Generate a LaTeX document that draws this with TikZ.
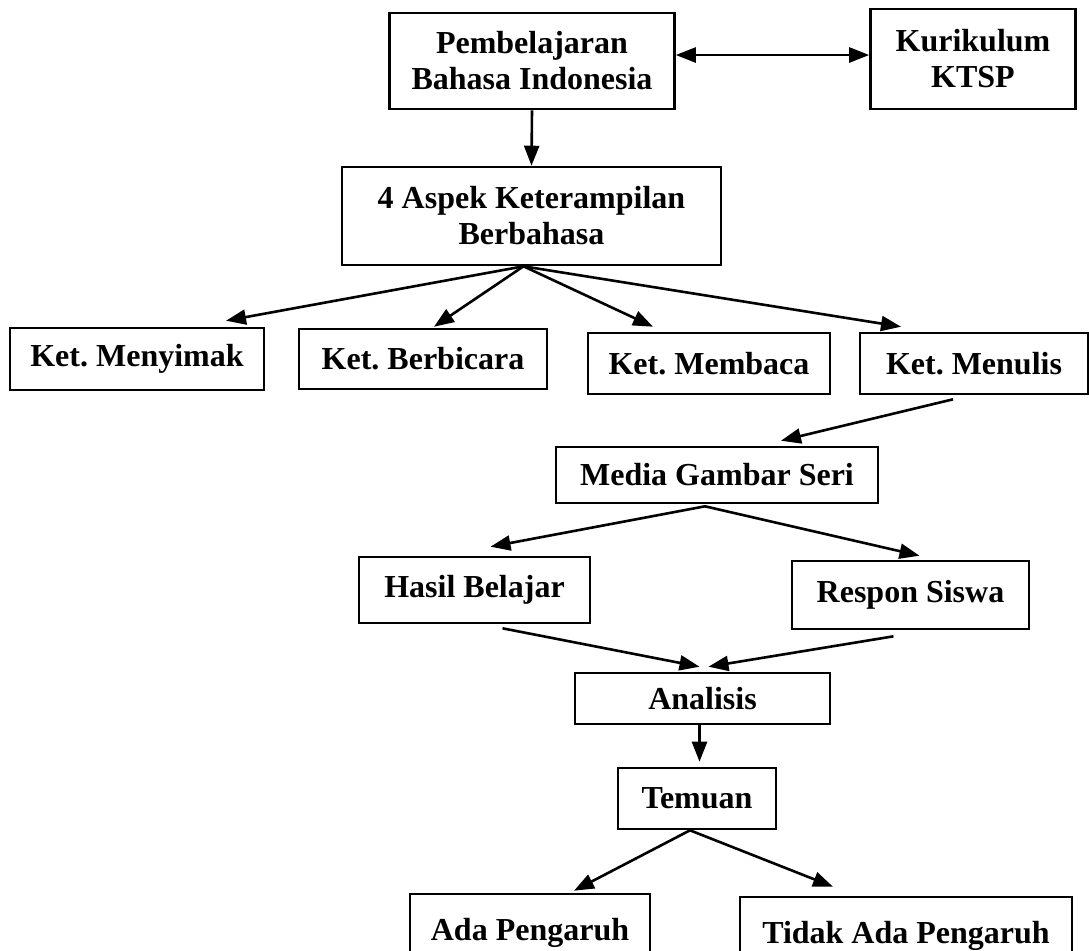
\documentclass[tikz,border=0pt]{standalone}
\usepackage{fontspec}
\setmainfont{Liberation Serif}
\usetikzlibrary{arrows.meta, calc}
\frenchspacing

\begin{document}
\begin{tikzpicture}[x=0.5pt, y=-0.5pt, align=center, font=\bfseries\fontsize{16}{18}\selectfont]

\tikzstyle{kotak} = [rectangle, draw=black, line width=1.3pt, inner sep=0pt, text centered]
\tikzstyle{arrow} = [line width=1.3pt, -{Triangle[length=10pt, width=7.5pt]}]
\tikzstyle{biarrow} = [line width=1.3pt, {Triangle[length=10pt, width=7.5pt]}-{Triangle[length=10pt, width=7.5pt]}]

\useasboundingbox (0,0) rectangle (1089,950);
\clip (0,0) rectangle (1089,950);

\node (pbi) [kotak, minimum width=142.5pt, minimum height=48pt] at (532,61) {Pembelajaran\\Bahasa Indonesia};
\node (ktsp) [kotak, minimum width=102.5pt, minimum height=50pt] at (973,59) {Kurikulum\\KTSP};
\node (aspek) [kotak, minimum width=189.5pt, minimum height=49pt] at (531.5,216) {4 Aspek Keterampilan\\Berbahasa};
\node (menyimak) [kotak, minimum width=127pt, minimum height=31pt] at (137,359) {Ket. Menyimak};
\node (berbicara) [kotak, minimum width=124pt, minimum height=30pt] at (423,359) {Ket. Berbicara};
\node (membaca) [kotak, minimum width=121pt, minimum height=30.5pt] at (709,363.5) {Ket. Membaca};
\node (menulis) [kotak, minimum width=114pt, minimum height=30.5pt] at (974,363.5) {Ket. Menulis};
\node (media) [kotak, minimum width=161pt, minimum height=28pt] at (717,475) {Media Gambar Seri};
\node (hasil) [kotak, minimum width=115.5pt, minimum height=33pt] at (474.5,590) {Hasil Belajar};
\node (respon) [kotak, minimum width=118.5pt, minimum height=34pt] at (910.5,595) {Respon Siswa};
\node (analisis) [kotak, minimum width=127.5pt, minimum height=25.5pt] at (702.5,698.5) {Analisis};
\node (temuan) [kotak, minimum width=79pt, minimum height=30.5pt] at (697,798.5) {Temuan};
\node (ada) [kotak, minimum width=120pt, minimum height=39pt] at (530,933) {Ada Pengaruh};
\node (tidak) [kotak, minimum width=166pt, minimum height=39pt] at (906,936) {Tidak Ada Pengaruh};

\draw [biarrow] ([yshift=3pt]pbi.east) -- ([yshift=3pt]pbi.east -| ktsp.west);
\draw [arrow] (pbi.south) -- (aspek.north);
\draw [arrow] ($(aspek.south)+(-8,0)$) -- ($(menyimak.north)+(89,-6)$);
\draw [arrow] ($(aspek.south)+(-8,0)$) -- ($(berbicara.north)+(11,-1)$);
\draw [arrow] ($(aspek.south)+(-8,0)$) -- ($(membaca.north)+(-56,-5)$);
\draw [arrow] ($(aspek.south)+(-8,0)$) -- ($(menulis.north)+(-73,-5)$);
\draw [arrow] ($(menulis.south)+(-21,4)$) -- ($(media.north)+(64,-5)$);
\draw [arrow] ($(media.south)+(-12,2)$) -- ($(hasil.north)+(16,-9)$);
\draw [arrow] ($(media.south)+(-12,2)$) -- ($(respon.north)+(9,-4)$);
\draw [arrow] ($(hasil.south)+(28,4)$) -- ($(analisis.north)+(-3,-5)$);
\draw [arrow] ($(respon.south)+(-17,6)$) -- ($(analisis.north)+(6,-5)$);
\draw [arrow, shorten >=2.5pt] ($(analisis.south)+(-3,0)$) -- ($(analisis.south |- temuan.north)+(-3,0)$);
\draw [arrow] ($(temuan.south)+(-7,0)$) -- ($(ada.north)+(44,-2)$);
\draw [arrow] ($(temuan.south)+(-7,0)$) -- ($(tidak.north)+(-73,-9)$);
\end{tikzpicture}
\end{document}
